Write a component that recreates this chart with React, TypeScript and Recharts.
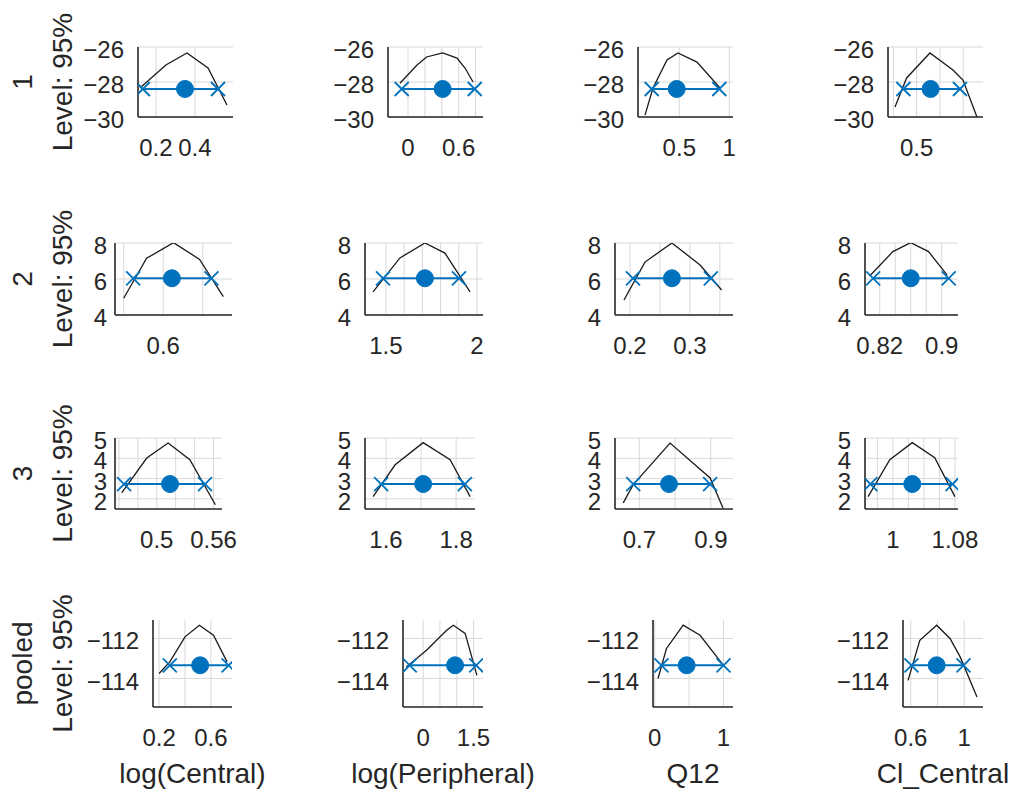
import React from 'react';
import { LineChart, Line, XAxis, YAxis, CartesianGrid } from 'recharts';

const FONT = '"Liberation Sans", Arial, Helvetica, sans-serif';
const INK = '#262626';
const BLUE = '#0072BD';
const GRID = '#d9d9d9';
const TICK_FS = 24;
const LABEL_FS = 28;

// ---------- text ----------
const rowNames = ['1', '2', '3', 'pooled'];
const paramNames = ['log(Central)', 'log(Peripheral)', 'Q12', 'Cl_Central'];
const levelLabel = 'Level: 95%';

// ---------- per-row y data ----------
const yDomain1 = [-30, -26];
const yDomain2 = [4, 8];
const yDomain3 = [1.5, 5];
const yDomain4 = [-115.42, -111.08];
const yTicks1 = [-30, -28, -26];
const yTicks2 = [4, 6, 8];
const yTicks3 = [2, 3, 4, 5];
const yTicks4 = [-114, -112];
const rowLevels = [-28.4, 6.04, 2.73, -113.34];

// ---------- row 1 ----------
const xd11 = [0.108, 0.595]; const xt11 = [0.2, 0.4]; const xg11 = [0.2, 0.4];
const cx11 = [0.118, 0.251, 0.359, 0.467, 0.564];
const cy11 = [-28.34, -27.03, -26.34, -27.2, -29.31];
const ci11 = [0.133, 0.349, 0.518];

const xd12 = [-0.237, 0.888]; const xt12 = [0, 0.6]; const xg12 = [0, 0.2, 0.4, 0.6, 0.8];
const cx12 = [-0.095, 0.107, 0.22, 0.41, 0.58, 0.675, 0.77];
const cy12 = [-28.07, -27.03, -26.57, -26.34, -26.63, -27.2, -28.0];
const ci12 = [-0.075, 0.41, 0.79];

const xd13 = [0.087, 1.037]; const xt13 = [0.5, 1]; const xg13 = [0.5, 1];
const cx13 = [0.157, 0.237, 0.377, 0.487, 0.677, 0.907];
const cy13 = [-29.89, -28.34, -26.74, -26.34, -26.86, -28.34];
const ci13 = [0.224, 0.474, 0.9];

const xd14 = [0.377, 0.785]; const xt14 = [0.5]; const xg14 = [0.4, 0.5, 0.6, 0.7];
const cx14 = [0.407, 0.457, 0.557, 0.656, 0.699, 0.759];
const cy14 = [-29.43, -27.77, -26.34, -27.31, -27.89, -30];
const ci14 = [0.443, 0.56, 0.686];

// ---------- row 2 ----------
const xd21 = [0.539, 0.687]; const xt21 = [0.6]; const xg21 = [0.55, 0.6, 0.65];
const cx21 = [0.55, 0.579, 0.613, 0.646, 0.676];
const cy21 = [4.93, 7.15, 8.02, 7.09, 5.02];
const ci21 = [0.562, 0.611, 0.661];

const xd22 = [1.385, 2.033]; const xt22 = [1.5, 2]; const xg22 = [1.5, 1.6, 1.7, 1.8, 1.9, 2];
const cx22 = [1.429, 1.577, 1.714, 1.824, 1.962];
const cy22 = [5.28, 7.17, 8.0, 7.44, 5.28];
const ci22 = [1.484, 1.714, 1.901];

const xd23 = [0.175, 0.372]; const xt23 = [0.2, 0.3]; const xg23 = [0.2, 0.25, 0.3, 0.35];
const cx23 = [0.19, 0.225, 0.27, 0.317, 0.353];
const cy23 = [4.83, 6.94, 8.0, 6.78, 5.39];
const ci23 = [0.205, 0.27, 0.335];

const xd24 = [0.801, 0.921]; const xt24 = [0.82, 0.9]; const xg24 = [0.82, 0.84, 0.86, 0.88, 0.9];
const cx24 = [0.807, 0.837, 0.86, 0.883, 0.907];
const cy24 = [6.17, 7.52, 8.02, 7.52, 6.22];
const ci24 = [0.8115, 0.86, 0.909];

// ---------- row 3 ----------
const xd31 = [0.4558, 0.569]; const xt31 = [0.5, 0.56]; const xg31 = [0.46, 0.48, 0.5, 0.52, 0.54, 0.56];
const cx31 = [0.4629, 0.4894, 0.512, 0.535, 0.562];
const cy31 = [2.29, 4.01, 4.75, 3.93, 1.71];
const ci31 = [0.4654, 0.514, 0.551];

const xd32 = [1.54, 1.854]; const xt32 = [1.6, 1.8]; const xg32 = [1.6, 1.7, 1.8];
const cx32 = [1.563, 1.626, 1.706, 1.783, 1.84];
const cy32 = [2.11, 3.68, 4.77, 3.93, 2.11];
const ci32 = [1.586, 1.706, 1.825];

const xd33 = [0.632, 0.962]; const xt33 = [0.7, 0.9]; const xg33 = [0.7, 0.8, 0.9];
const cx33 = [0.655, 0.683, 0.786, 0.898, 0.934];
const cy33 = [1.8, 2.7, 4.75, 3.03, 1.55];
const ci33 = [0.683, 0.783, 0.898];

const xd34 = [0.964, 1.084]; const xt34 = [1, 1.08]; const xg34 = [0.98, 1, 1.02, 1.04, 1.06, 1.08];
const cx34 = [0.968, 0.996, 1.025, 1.054, 1.08];
const cy34 = [2.11, 3.93, 4.77, 4.03, 2.11];
const ci34 = [0.971, 1.025, 1.077];

// ---------- row 4 (pooled) ----------
const xd41 = [0.153, 0.763]; const xt41 = [0.2, 0.6]; const xg41 = [0.2, 0.4, 0.6];
const cx41 = [0.2, 0.283, 0.4, 0.511, 0.62, 0.725];
const cy41 = [-113.75, -113.17, -111.92, -111.34, -111.84, -113.17];
const ci41 = [0.283, 0.517, 0.737];

const xd42 = [-0.6, 1.782]; const xt42 = [0, 1.5]; const xg42 = [0, 0.5, 1, 1.5];
const cx42 = [-0.5, 0.1, 0.7, 0.9, 1.25, 1.6];
const cy42 = [-113.42, -112.59, -111.59, -111.34, -111.75, -113.84];
const ci42 = [-0.4, 0.95, 1.58];

const xd43 = [-0.025, 1.138]; const xt43 = [0, 1]; const xg43 = [0, 0.5, 1];
const cx43 = [0.048, 0.171, 0.414, 0.659, 1.0];
const cy43 = [-114, -112.5, -111.34, -111.84, -113.34];
const ci43 = [0.098, 0.464, 1.0];

const xd44 = [0.542, 1.141]; const xt44 = [0.6, 1]; const xg44 = [0.6, 0.8, 1.0];
const cx44 = [0.58, 0.668, 0.794, 0.894, 0.97, 1.096];
const cy44 = [-114.09, -112.09, -111.34, -112, -112.92, -114.92];
const ci44 = [0.605, 0.794, 0.995];

// ---------- assemble ----------
const rowY = [
  { domain: yDomain1, ticks: yTicks1 },
  { domain: yDomain2, ticks: yTicks2 },
  { domain: yDomain3, ticks: yTicks3 },
  { domain: yDomain4, ticks: yTicks4 },
];

const panelData = [
  [
    [xd11, xt11, xg11, cx11, cy11, ci11],
    [xd12, xt12, xg12, cx12, cy12, ci12],
    [xd13, xt13, xg13, cx13, cy13, ci13],
    [xd14, xt14, xg14, cx14, cy14, ci14],
  ],
  [
    [xd21, xt21, xg21, cx21, cy21, ci21],
    [xd22, xt22, xg22, cx22, cy22, ci22],
    [xd23, xt23, xg23, cx23, cy23, ci23],
    [xd24, xt24, xg24, cx24, cy24, ci24],
  ],
  [
    [xd31, xt31, xg31, cx31, cy31, ci31],
    [xd32, xt32, xg32, cx32, cy32, ci32],
    [xd33, xt33, xg33, cx33, cy33, ci33],
    [xd34, xt34, xg34, cx34, cy34, ci34],
  ],
  [
    [xd41, xt41, xg41, cx41, cy41, ci41],
    [xd42, xt42, xg42, cx42, cy42, ci42],
    [xd43, xt43, xg43, cx43, cy43, ci43],
    [xd44, xt44, xg44, cx44, cy44, ci44],
  ],
];

// ---------- layout (plot-area boxes, in page pixels) ----------
const rowBox = [[47, 70], [243, 72], [438, 71], [620, 87]];
const colBox = [
  [[138, 95], [388, 95], [638, 95], [888, 95]],
  [[115, 117], [365, 118], [615, 118], [865, 93]],
  [[115, 107], [365, 110], [615, 118], [865, 93]],
  [[153, 79], [403, 80], [653, 80], [903, 80]],
];

const fmt = (v: number) => String(v).replace('-', '\u2212');

const XTick = (props: any) => {
  const { x, y, payload } = props;
  return (
    <text x={x} y={y + 39} textAnchor="middle" fontSize={TICK_FS} fill={INK} fontFamily={FONT}>
      {fmt(payload.value)}
    </text>
  );
};

const makeYTick = (gap: number) => (props: any) => {
  const { x, y, payload } = props;
  return (
    <text x={x - gap} y={y + 11} textAnchor="end" fontSize={TICK_FS} fill={INK} fontFamily={FONT}>
      {fmt(payload.value)}
    </text>
  );
};

const Marker = (props: any) => {
  const { cx, cy, payload, index } = props;
  if (cx == null || cy == null) return <g key={`m${index}`} />;
  if (payload.m === 'o') {
    return <circle key={`m${index}`} cx={cx} cy={cy} r={8.5} fill={BLUE} stroke={BLUE} />;
  }
  const s = 7;
  return (
    <g key={`m${index}`} stroke={BLUE} strokeWidth={1.8}>
      <line x1={cx - s} y1={cy - s} x2={cx + s} y2={cy + s} />
      <line x1={cx - s} y1={cy + s} x2={cx + s} y2={cy - s} />
    </g>
  );
};

function Panel({ r, c }: { r: number; c: number }) {
  const [xDomain, xTicks, xGrid, curveX, curveY, ci] = panelData[r][c];
  const { domain: yDomain, ticks: yTicks } = rowY[r];
  const [py, ph] = rowBox[r];
  const [px, pw] = colBox[r][c];
  const padL = c === 0 ? px : 90;
  const padT = Math.min(py, 60);
  const padR = r === 3 ? 90 : 40;
  const padB = r === 3 ? 793 - (py + ph) : 50;
  const width = padL + pw + padR;
  const height = padT + ph + padB;
  const left = px - padL;
  const top = py - padT;
  const gap = c === 0 && (r === 1 || r === 2) ? 8 : 14;
  const YTick = makeYTick(gap);

  const curve = curveX.map((x, i) => ({ x, y: curveY[i] }));
  const level = rowLevels[r];
  const ciData = [
    { x: ci[0], y: level, m: 'x' },
    { x: ci[1], y: level, m: 'o' },
    { x: ci[2], y: level, m: 'x' },
  ];

  const cyMid = padT + ph / 2;
  const yLabel =
    c === 0
      ? () => (
          <g fontFamily={FONT} fontSize={LABEL_FS} fill={INK}>
            <text x={32} y={cyMid} textAnchor="middle" transform={`rotate(-90 32 ${cyMid})`}>
              {rowNames[r]}
            </text>
            <text x={72} y={cyMid} textAnchor="middle" transform={`rotate(-90 72 ${cyMid})`}>
              {levelLabel}
            </text>
          </g>
        )
      : undefined;

  const xLabel =
    r === 3
      ? () => (
          <text
            x={padL + pw / 2}
            y={783 - top}
            textAnchor="middle"
            fontFamily={FONT}
            fontSize={LABEL_FS}
            fill={INK}
          >
            {paramNames[c]}
          </text>
        )
      : undefined;

  return (
    <div style={{ position: 'absolute', left, top, width, height }}>
      <LineChart width={width} height={height} margin={{ top: padT, right: padR, left: 0, bottom: 0 }}>
        <CartesianGrid
          stroke={GRID}
          strokeWidth={1}
          verticalValues={xGrid}
          horizontalValues={yTicks}
        />
        <XAxis
          type="number"
          dataKey="x"
          domain={xDomain}
          ticks={xTicks}
          interval={0}
          allowDataOverflow
          height={padB}
          tickLine={false}
          tickSize={0}
          tickMargin={0}
          axisLine={{ stroke: INK, strokeWidth: 1.6 }}
          tick={<XTick />}
          label={xLabel}
        />
        <YAxis
          type="number"
          dataKey="y"
          domain={yDomain}
          ticks={yTicks}
          interval={0}
          allowDataOverflow
          width={padL}
          tickLine={false}
          tickSize={0}
          tickMargin={0}
          axisLine={{ stroke: INK, strokeWidth: 1.6 }}
          tick={<YTick />}
          label={yLabel}
        />
        <Line
          data={curve}
          dataKey="y"
          type="linear"
          stroke="#1a1a1a"
          strokeWidth={1.3}
          dot={false}
          activeDot={false}
          isAnimationActive={false}
        />
        <Line
          data={ciData}
          dataKey="y"
          type="linear"
          stroke={BLUE}
          strokeWidth={2}
          dot={<Marker />}
          activeDot={false}
          isAnimationActive={false}
        />
      </LineChart>
    </div>
  );
}

export default function App() {
  const cells = [];
  for (let r = 0; r < 4; r++) {
    for (let c = 0; c < 4; c++) {
      cells.push(<Panel key={`${r}-${c}`} r={r} c={c} />);
    }
  }
  return (
    <div
      style={{
        position: 'absolute',
        left: 0,
        top: 0,
        width: 1016,
        height: 793,
        background: '#fff',
        overflow: 'hidden',
      }}
    >
      {cells}
    </div>
  );
}
